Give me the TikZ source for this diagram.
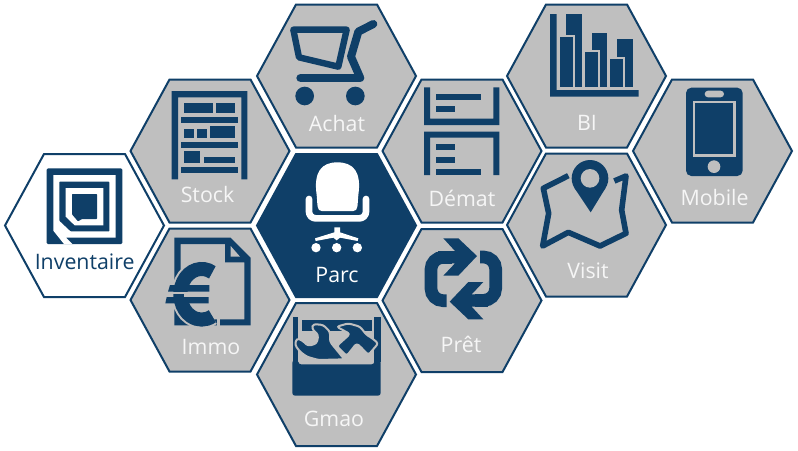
\documentclass[tikz,border=0pt]{standalone}
\usepackage{fontspec}
\setmainfont{Open Sans}
\usetikzlibrary{calc}
\definecolor{navy}{HTML}{0F3F68}
\definecolor{hexgrey}{HTML}{BFBFBF}
\definecolor{labelwhite}{HTML}{F6F6F6}
\tikzset{
  hexa/.style={draw=navy,line width=1.5pt,line join=miter,fill=hexgrey},
  hexw/.style={hexa,fill=white},
  hexd/.style={hexa,fill=navy},
  lab/.style={anchor=base,text=labelwhite,font=\fontsize{16}{19}\selectfont,inner sep=0pt},
  icon/.style={fill=navy,draw=none},
  zoomfrom/.style 2 args={shift={(#1,#2)},x=.25pt,y=-.25pt},
  band/.style={draw=navy,line width=#1,fill=none},
  halo/.style={draw=hexgrey,line width=#1}
}
\newcommand{\hexat}[3]{\draw[#3,shift={(#1,#2)}] (-79.5,0)--(-40.5,-71.5)--(40.5,-71.5)--(79.5,0)--(40.5,71.5)--(-40.5,71.5)--cycle;}
\begin{document}
\begin{tikzpicture}[x=.75pt,y=-.75pt]
\useasboundingbox[fill=white] (0,0) rectangle (798,450);
% hexagons
\hexat{84.5}{225.5}{hexw}
\hexat{210}{151}{hexa}
\hexat{210}{300}{hexa}
\hexat{336.5}{76}{hexa}
\hexat{336.5}{225.5}{hexd}
\hexat{462}{151}{hexa}
\hexat{462}{300.5}{hexa}
\hexat{336.5}{374.5}{hexa}
\hexat{586.5}{76}{hexa}
\hexat{586.5}{225}{hexa}
\hexat{712.5}{151}{hexa}
% Inventaire icon
\begin{scope}[zoomfrom={40}{160}]
\fill[icon,rounded corners=1pt] (20,25) rectangle (247,252);
\fill[white] (40,45)--(227,45)--(227,233)--(78,233)--(97,252)--(72,252)--(40,212)--cycle;
\fill[navy,rounded corners=.5pt] (58,65)--(208,65)--(208,214)--(92,214)--(58,182)--cycle;
\fill[white] (77,84)--(190,84)--(190,196)--(104,196)--(77,170)--cycle;
\fill[navy,rounded corners=.5pt] (96,102)--(171,102)--(171,177)--(126,177)--(114,184)--(96,163)--cycle;
\end{scope}
% Stock icon
\begin{scope}[zoomfrom={0}{70}]
\fill[icon] (515,63)--(742,63)--(742,328)--(724,328)--(724,82)--(534,82)--(534,328)--(515,328)--cycle;
\foreach \a/\b/\c/\d in {553/100/638/130,648/100/705/130,544/140/714/158,553/178/581/204,592/178/620/204,630/168/705/204,544/215/714/233,553/243/600/280,612/262/705/280,544/290/714/308}
  \fill[icon] (\a,\b) rectangle (\c,\d);
\end{scope}
% Immo icon
\begin{scope}[zoomfrom={160}{235}]
\fill[icon,even odd rule] (43,8)--(212,8)--(272,68)--(272,271)--(43,271)--cycle
  (62,27)--(195,27)--(195,82)--(253,82)--(253,253)--(62,253)--cycle;
\fill[hexgrey] (212,33)--(240,65)--(212,65)--cycle;
\draw[halo=13.5pt] (157,112) arc[x radius=64,y radius=76,start angle=-60,end angle=-300];
\fill[hexgrey] (170,100) rectangle (181,272);
\draw[band=10.5pt] (157,112) arc[x radius=64,y radius=76,start angle=-60,end angle=-300];
\fill[icon] (30,150)--(148,150)--(148,170)--(24,170)--cycle;
\fill[icon] (20,186)--(146,186)--(146,205)--(16,205)--cycle;
\fill[hexgrey] (72,170) rectangle (150,186);
\fill[hexgrey] (20,171) rectangle (72,177);
\end{scope}
% Achat icon
\begin{scope}[zoomfrom={250}{0}]
\draw[band=4.8pt,line join=round] (130,89)--(290,89)--(265,200)--(147,172)--cycle;
\draw[band=6pt,line cap=round,line join=round] (370,72)--(325,95)--(303,170)--(330,232);
\draw[band=6.5pt,line cap=round] (152,234)--(330,234);
\fill[icon] (164,288) circle[radius=28];
\fill[icon] (316,288) circle[radius=28];
\end{scope}
% Parc icon
\begin{scope}[zoomfrom={295}{155}]
\fill[white] (80,168) .. controls (65,168) and (68,150) .. (65,120)
  .. controls (55,50) and (80,22) .. (127,22)
  .. controls (175,22) and (200,50) .. (190,120)
  .. controls (187,150) and (190,168) .. (175,168)--cycle;
\draw[white,line width=5pt,line cap=round,line join=round,rounded corners=5pt] (42,132)--(42,190)--(213,190)--(213,132);
\fill[white] (118,217)--(135,217)--(135,232)--(190,250)--(188,258)--(135,248)--(125,256)--(115,248)--(62,258)--(60,250)--(118,232)--cycle;
\fill[white] (63,278) circle[radius=14];
\fill[white] (125,278) circle[radius=14];
\fill[white] (187,278) circle[radius=14];
\end{scope}
% Demat icon
\begin{scope}[zoomfrom={250}{0}]
\fill[icon] (522,262)--(540,262)--(540,356)--(730,356)--(730,262)--(748,262)--(748,375)--(522,375)--cycle;
\fill[icon] (522,525)--(540,525)--(540,413)--(730,413)--(730,525)--(748,525)--(748,395)--(522,395)--cycle;
\foreach \a/\b/\c/\d in {558/281/692/299,558/318/615/336,558/433/615/451,558/470/615/488,558/508/692/525}
  \fill[icon] (\a,\b) rectangle (\c,\d);
\end{scope}
% Pret icon
\begin{scope}[zoomfrom={415}{230}]
\foreach \r in {0,180}{
\begin{scope}[rotate around={\r:(145,146.5)}]
\draw[band=9.5pt,rounded corners=9pt] (115,82)--(48,82)--(48,212)--(95,212);
\end{scope}
}
\foreach \r in {0,180}{
\begin{scope}[rotate around={\r:(145,146.5)}]
\fill[hexgrey] (84,20)--(132,20)--(192,78)--(132,142)--(84,142)--cycle;
\draw[band=9.5pt] (70,82)--(110,82);
\fill[icon] (85,25)--(130,25)--(186,78)--(130,137)--(85,137)--(120,100)--(80,100)--(80,63)--(120,63)--cycle;
\end{scope}
}
\end{scope}
% Gmao icon
\begin{scope}[zoomfrom={285}{310}]
\fill[icon] (23,22) rectangle (40,155);
\fill[icon] (268,22) rectangle (287,155);
\fill[icon] (50,30) rectangle (262,62);
\fill[icon,rounded corners=2pt] (22,150)--(22,257)--(287,257)--(287,150)--(268,150)--(268,163)--(40,163)--(40,150)--cycle;
\fill[icon,draw=hexgrey,line width=1.5pt,line join=round,rounded corners=2pt] (85,42)--(115,45)--(135,65)--(135,95)--(178,148)--(100,150)--(65,140)--(45,125)--(30,105)--(35,85)--(50,90)--(70,108)--(95,100)--(100,75)--(80,55)--cycle;
\fill[icon,draw=hexgrey,line width=1.5pt,line join=round,rounded corners=2pt] (155,50)--(190,40)--(225,50)--(245,75)--(255,80)--(280,100)--(250,135)--(228,112)--(215,100)--(185,138)--(155,108)--(195,72)--cycle;
\end{scope}
% BI icon
\begin{scope}[zoomfrom={500}{0}]
\fill[icon] (150,42)--(170,42)--(170,270)--(416,270)--(416,290)--(150,290)--cycle;
\foreach \a/\b/\c in {198/42/245,275/100/322,350/118/398}
  \fill[icon] (\a,\b) rectangle (\c,262);
\foreach \a/\b/\c in {180/110/218,255/157/293,330/177/368}{
  \fill[hexgrey] (\a-6,\b-6) rectangle (\c+6,262);
  \fill[icon] (\a,\b) rectangle (\c,262);
}
\end{scope}
% Visit icon
\begin{scope}[zoomfrom={500}{0}]
\draw[band=4.2pt,line join=round,line cap=butt] (205,527)--(130,565)--(146,640)--(128,738)--(205,697)--(300,738)--(378,700)--(365,630)--(378,528)--(343,543);
\fill[icon] (272,637)--(224,565)--(316,565)--cycle;
\fill[icon] (270,535) circle[radius=55];
\fill[hexgrey] (270,535) circle[radius=28];
\end{scope}
% Mobile icon
\begin{scope}[zoomfrom={500}{0}]
\fill[icon,rounded corners=4pt] (558,263) rectangle (728,528);
\draw[hexgrey,line width=2pt] (582,306) rectangle (704,466);
\fill[hexgrey,rounded corners=2.5pt] (614,272) rectangle (672,292);
\fill[hexgrey] (642,500) circle[radius=19];
\end{scope}
% labels
\node[lab,text=navy] (inventaire) at (84.7,269) {Inventaire};
\node[lab] (stock) at (207.5,202) {Stock};
\node[lab] (immo) at (211,354) {Immo};
\node[lab] (achat) at (337,131) {Achat};
\node[lab,text=white] (parc) at (337,282) {Parc};
\node[lab] (demat) at (462,206) {Démat};
\node[lab] (pret) at (461,352) {Prêt};
\node[lab] (gmao) at (334,426) {Gmao};
\node[lab] (bi) at (587,130) {BI};
\node[lab] (mobile) at (714.5,205) {Mobile};
\node[lab] (visit) at (588,278) {Visit};
\end{tikzpicture}
\end{document}
